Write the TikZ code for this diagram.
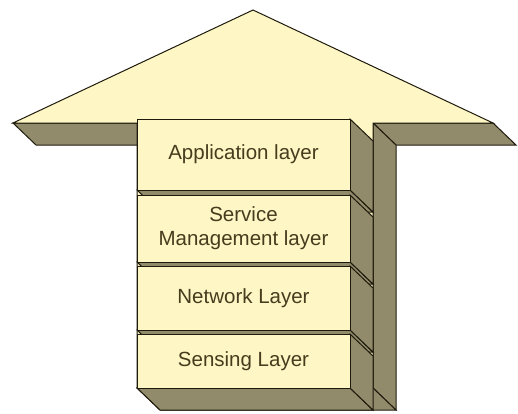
\documentclass[tikz,border=0pt]{standalone}
\usepackage{fontspec}
\setmainfont{Liberation Sans}
\definecolor{cream}{HTML}{FEF6C4}
\definecolor{side}{HTML}{928B6B}
\definecolor{edge}{HTML}{1E1A0C}
\definecolor{txt}{HTML}{463C1E}
\begin{document}
\begin{tikzpicture}[x=1pt,y=-1pt,line join=miter,
  face/.style={fill=side,draw=edge,line width=1pt},
  front/.style={fill=cream,draw=edge,line width=1pt},
  layer/.style={front,minimum width=213pt,minimum height=#1,inner sep=0pt,
    align=center,text=txt,font=\fontsize{20.5}{24}\selectfont}]
\useasboundingbox (0,0) rectangle (518,413);
% arrow depth faces
\draw[face] (13,123) -- (137,123) -- (160,145) -- (36,145) -- cycle;
\draw[face] (373,123) -- (493,123) -- (516,145) -- (396,145) -- cycle;
\draw[face] (373,123) -- (396,145) -- (396,410) -- (373,388) -- cycle;
\draw[face] (137,388) -- (373,388) -- (396,410) -- (160,410) -- cycle;
% arrow front face
\draw[front] (253,10) -- (493,123) -- (373,123) -- (373,388) -- (137,388)
  -- (137,123) -- (13,123) -- cycle;
% layers, top to bottom
\foreach \n/\yt/\yb/\t in {l1/119/190/{Application layer},
  l2/195/262/{Service\\Management layer},
  l3/266/330/{Network Layer},
  l4/334/388/{Sensing Layer}}{
  \pgfmathsetmacro{\h}{\yb-\yt}
  \pgfmathsetmacro{\c}{(\yb+\yt)/2}
  \coordinate (\n c) at (243.5,\c);
  \draw[face] (137,\yb) -- (350,\yb) -- (373,\yb+22) -- (160,\yb+22) -- cycle;
  \draw[face] (350,\yt) -- (373,\yt+22) -- (373,\yb+22) -- (350,\yb) -- cycle;
  \node[layer=\h pt] (\n) at (\n c) {\t};
}
\end{tikzpicture}
\end{document}
